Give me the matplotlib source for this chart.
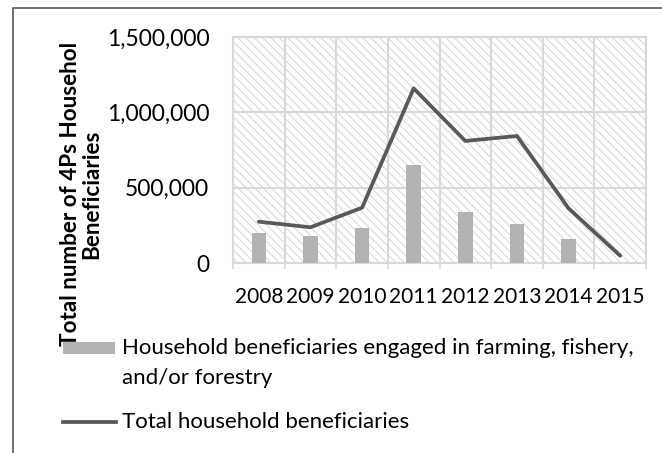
import matplotlib.pyplot as plt
from matplotlib.patches import Rectangle
from matplotlib.lines import Line2D
from matplotlib.ticker import FuncFormatter

years = ["2008", "2009", "2010", "2011", "2012", "2013", "2014", "2015"]
farming = [197000, 179000, 232000, 650000, 336000, 259000, 159000, 0]
total = [274000, 237000, 367000, 1159000, 810000, 843000, 363000, 48000]

plt.rcParams["font.family"] = ["Lato", "DejaVu Sans"]
plt.rcParams["hatch.linewidth"] = 0.6

grid_c = "#d9d9d9"
hatch_c = "#cfcfcf"
bar_c = "#b3b3b3"
line_c = "#595959"

fig = plt.figure(figsize=(6.62, 4.53), dpi=100)
ax = fig.add_axes([233 / 662, 1 - 263 / 453, 413 / 662, 226 / 453])

x = list(range(len(years)))

# hatched background
ax.add_patch(Rectangle((0, 0), 1, 1, transform=ax.transAxes, facecolor="white",
                       edgecolor=hatch_c, hatch="\\\\\\\\", linewidth=0, zorder=0))

ax.bar(x, farming, width=0.28, color=bar_c, zorder=3)
ax.plot(x, total, color=line_c, linewidth=2.7, zorder=4, solid_capstyle="round")

ax.set_xlim(-0.5, 7.5)
ax.set_ylim(0, 1500000)
ax.set_yticks([0, 500000, 1000000, 1500000])
ax.yaxis.set_major_formatter(FuncFormatter(lambda v, p: f"{int(v):,}"))
ax.set_xticks(x)
ax.set_xticklabels(years)
ax.set_xticks([i - 0.5 for i in range(len(years) + 1)], minor=True)

ax.tick_params(axis="both", which="major", length=0, colors="black")
ax.tick_params(axis="y", pad=17, labelsize=16.5)
ax.tick_params(axis="x", pad=17, labelsize=15)
ax.tick_params(axis="x", which="minor", length=4, width=1.2, color=grid_c)
ax.grid(axis="y", which="major", color=grid_c, linewidth=1.5, zorder=1)
ax.grid(axis="x", which="minor", color=grid_c, linewidth=1.5, zorder=1)
ax.set_axisbelow(True)
for s in ax.spines.values():
    s.set_color(grid_c)
    s.set_linewidth(1.5)

# y axis title
fig.text(81 / 662, 1 - 194 / 453, "Total number of 4Ps Househol\nBeneficiaries",
         rotation=90, ha="center", va="center", fontsize=16.2, fontweight="bold",
         multialignment="center", linespacing=1.0)

# legend
fig.patches.append(Rectangle((63 / 662, 1 - 354 / 453), 52 / 662, 12 / 453,
                             transform=fig.transFigure, facecolor=bar_c, edgecolor="none"))
fig.text(122 / 662, 1 - 348 / 453, "Household beneficiaries engaged in farming, fishery,",
         ha="left", va="center", fontsize=16)
fig.text(122 / 662, 1 - 378 / 453, "and/or forestry", ha="left", va="center", fontsize=16)
fig.lines.append(Line2D([63 / 662, 116 / 662], [1 - 422 / 453, 1 - 422 / 453],
                        transform=fig.transFigure, color=line_c, linewidth=2.7))
fig.text(122 / 662, 1 - 422 / 453, "Total household beneficiaries",
         ha="left", va="center", fontsize=16)

# chart border
fig.lines.append(Line2D([12.5 / 662, 12.5 / 662, 1], [0, 1 - 8 / 453, 1 - 8 / 453],
                        transform=fig.transFigure, color="#595959", linewidth=1.2))

fig.savefig("out.png", dpi=100)
